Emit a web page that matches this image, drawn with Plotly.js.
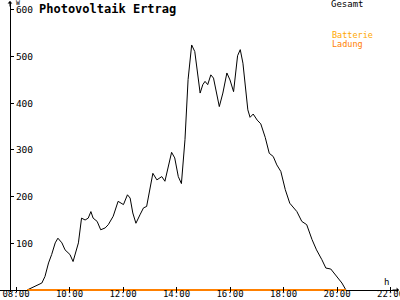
<!DOCTYPE html>
<html>
<head>
<meta charset="utf-8">
<script src="https://cdn.plot.ly/plotly-3.0.1.min.js"></script>
<style>html,body{margin:0;padding:0;background:#fff;}#chart{width:400px;height:300px;}</style>
</head>
<body>
<div id="chart"></div>
<script>
const times = ["08:25","08:43","08:58","09:05","09:13","09:20","09:28","09:34","09:43","09:50",
  "10:01","10:08","10:20","10:27","10:35","10:42","10:48","10:53","11:02","11:10",
  "11:20","11:27","11:38","11:49","12:01","12:10","12:16","12:22","12:29","12:38",
  "12:46","12:53","13:01","13:07","13:16","13:27","13:34","13:40","13:49","13:56",
  "14:04","14:11","14:19","14:26","14:34","14:41","14:47","14:53","14:59","15:04",
  "15:10","15:17","15:23","15:30","15:36","15:44","15:53","16:00","16:08","16:17",
  "16:23","16:29","16:37","16:40","16:45","16:52","17:01","17:09","17:19","17:28",
  "17:37","17:45","17:54","18:04","18:14","18:30","18:41","18:52","19:04","19:14",
  "19:26","19:35","19:46","19:59","20:11","20:20"];
const gesamt = [0,8,15,29,58,76,101,111,101,86,
  76,61,101,154,150,154,168,154,147,129,
  133,140,158,190,183,204,197,165,143,161,
  176,179,225,250,236,243,233,258,295,283,
  243,228,322,451,525,511,465,422,440,447,
  440,461,454,418,393,422,465,450,425,502,
  515,486,422,386,370,377,364,356,327,293,
  286,268,254,215,186,168,147,140,108,86,
  65,47,45,29,15,0];
const ladung = times.map(() => 0);
const tickHours = [8,10,12,14,16,18,20,22];
const tickLabels = ["08:00","10:00","12:00","14:00","16:00","18:00","20:00","22:00"];
const yTicks = [100,200,300,400,500,600];

const toH = t => { const p = t.split(":"); return +p[0] + (+p[1]) / 60; };
const xs = times.map(toH);
const mono = "DejaVu Sans Mono";

const data = [
  {x: xs, y: gesamt, type: "scatter", mode: "lines", line: {color: "#000", width: 1}, name: "Gesamt", hoverinfo: "none"},
  {x: xs, y: ladung, type: "scatter", mode: "lines", line: {color: "#ff8000", width: 2}, name: "Ladung", hoverinfo: "none"}
];

const layout = {
  width: 400, height: 300,
  margin: {l: 0, r: 2, t: 2, b: 8, pad: 0},
  paper_bgcolor: "#fff", plot_bgcolor: "#fff",
  showlegend: false,
  title: {text: "Photovoltaik Ertrag", font: {family: mono, size: 12, color: "#000", weight: "bold"},
          xref: "container", x: 0.0975, xanchor: "left", yref: "container", y: 0.972, yanchor: "middle"},
  xaxis: {range: [7.402, 22.28], tickvals: tickHours, ticktext: tickLabels, showgrid: false, zeroline: false,
          showline: false, ticks: "inside", ticklen: 5, tickcolor: "#000", tickwidth: 1,
          tickfont: {family: mono, size: 9, color: "#000"}, ticklabeloverflow: "allow", ticklabelstandoff: -5,
          automargin: false, fixedrange: true},
  yaxis: {range: [-4.29, 617.1], tickvals: yTicks, showgrid: false, zeroline: true, zerolinecolor: "#000", zerolinewidth: 1,
          anchor: "free", position: 0.0251, side: "right",
          showline: true, linecolor: "#000", linewidth: 1, ticks: "outside", ticklen: 3, tickcolor: "#000",
          tickfont: {family: mono, size: 9.5, color: "#000"}, ticklabeloverflow: "allow", automargin: false, fixedrange: true},
  annotations: [
    {xref: "paper", yref: "paper", x: 329/398, y: (292-4.5)/290, xanchor: "left", yanchor: "middle", text: "Gesamt", showarrow: false, font: {family: mono, size: 9, color: "#000"}},
    {xref: "paper", yref: "paper", x: 330/398, y: (292-35.5)/290, xanchor: "left", yanchor: "middle", text: "Batterie", showarrow: false, font: {family: mono, size: 8.5, color: "#ffa800"}},
    {xref: "paper", yref: "paper", x: 330/398, y: (292-44)/290, xanchor: "left", yanchor: "middle", text: "Ladung", showarrow: false, font: {family: mono, size: 8.5, color: "#ff8000"}},
    {xref: "paper", yref: "paper", x: 14/398, y: (292-3.5)/290, xanchor: "left", yanchor: "middle", text: "W", showarrow: false, font: {family: mono, size: 6.5, color: "#000"}},
    {xref: "paper", yref: "paper", x: 386.5/398, y: (292-281.5)/290, xanchor: "center", yanchor: "middle", text: "h", showarrow: false, font: {family: mono, size: 9, color: "#000"}},
    {xref: "paper", yref: "paper", x: 0.0251, y: 292/290, ax: 0, ay: 8, text: "", showarrow: true, arrowhead: 1, arrowsize: 0.8, arrowwidth: 1, arrowcolor: "#000"},
    {xref: "paper", yref: "paper", x: 399/398, y: 2/290, ax: -8, ay: 0, text: "", showarrow: true, arrowhead: 1, arrowsize: 0.8, arrowwidth: 1, arrowcolor: "#000"}
  ]
};

Plotly.newPlot("chart", data, layout, {staticPlot: true, displayModeBar: false});
</script>
</body>
</html>
